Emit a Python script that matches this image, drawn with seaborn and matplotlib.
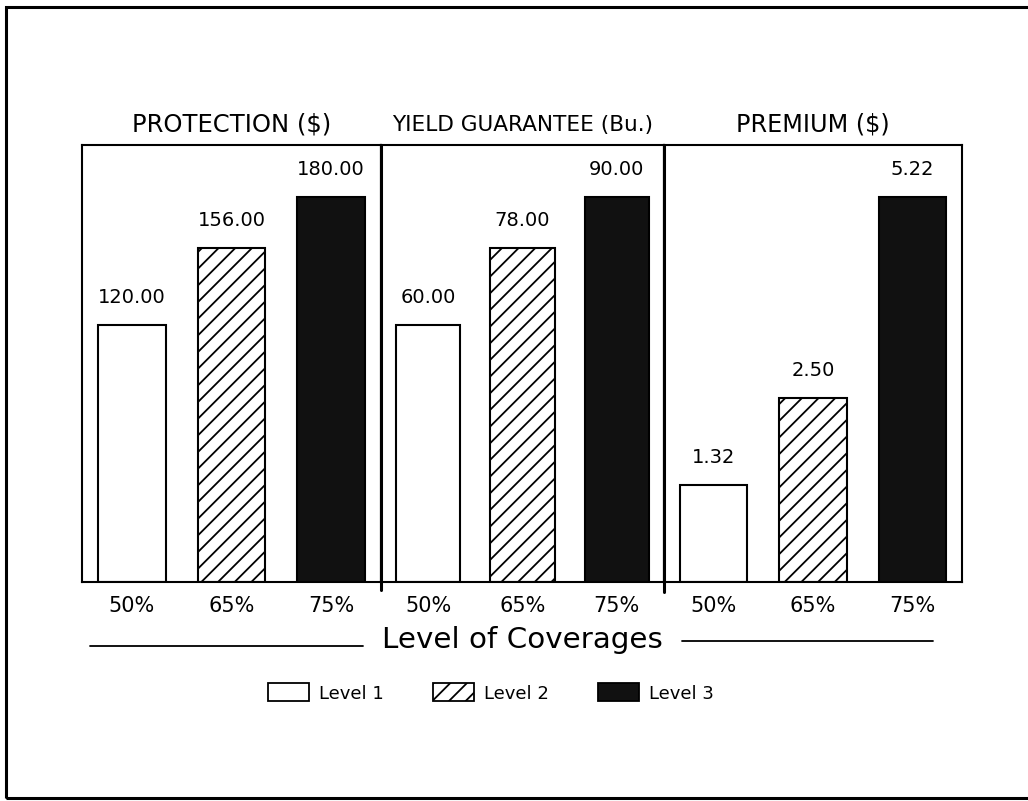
import pandas as pd
import seaborn as sns
import matplotlib.pyplot as plt
from matplotlib.lines import Line2D
from matplotlib.patches import Rectangle, Patch

# Data
coverages = ['50%', '65%', '75%']
levels = ['Level 1', 'Level 2', 'Level 3']
panel_titles = ['PROTECTION ($)', 'YIELD GUARANTEE (Bu.)', 'PREMIUM ($)']
protection = [120.00, 156.00, 180.00]
yield_guarantee = [60.00, 78.00, 90.00]
premium = [1.32, 2.50, 5.22]

df = pd.DataFrame({
    'panel': [panel_titles[0]] * 3 + [panel_titles[1]] * 3 + [panel_titles[2]] * 3,
    'coverage': coverages * 3,
    'value': protection + yield_guarantee + premium,
})

sns.set_style('white')
plt.rcParams['font.family'] = ['DejaVu Sans']
plt.rcParams['text.color'] = 'black'
plt.rcParams['xtick.color'] = 'black'
plt.rcParams['hatch.linewidth'] = 1.3

W, H = 1028, 801
fig = plt.figure(figsize=(W / 100, H / 100), dpi=100)

# panel edges in pixels (left, right)
edges = [(82, 381), (381, 664), (664, 962)]
y_top, y_bot = 145, 582
palette = {'50%': 'white', '65%': 'white', '75%': '#111111'}
title_sizes = [17.5, 15.6, 17.2]

axes = []
for i, (x0, x1) in enumerate(edges):
    ax = fig.add_axes([x0 / W, 1 - y_bot / H, (x1 - x0) / W, (y_bot - y_top) / H])
    sub = df[df['panel'] == panel_titles[i]]
    sns.barplot(data=sub, x='coverage', y='value', hue='coverage', order=coverages,
                palette=palette, edgecolor='black', linewidth=1.5, width=0.68,
                legend=False, ax=ax)
    # hatch the 65% bar
    ax.patches[1].set_hatch('//')
    for c in ax.containers:
        ax.bar_label(c, fmt='%.2f', padding=13, fontsize=14, color='black')
    top = sub['value'].max() * 437 / 385
    ax.set_ylim(0, top)
    ax.set_xlim(-0.5, 2.5)
    ax.set_xlabel('')
    ax.set_ylabel('')
    ax.set_yticks([])
    ax.tick_params(axis='x', length=0, labelsize=15, pad=10)
    ax.set_title(panel_titles[i], fontsize=title_sizes[i], pad=10, color='black')
    for s in ax.spines.values():
        s.set_linewidth(1.5)
        s.set_color('black')
    axes.append(ax)

# heavier separators between panels, running a bit below the baseline
for xs, ye in [(381, 590), (664, 592)]:
    fig.add_artist(Line2D([xs / W, xs / W], [1 - y_top / H, 1 - ye / H],
                          transform=fig.transFigure, color='black', lw=2.2))

# axis caption with rules on each side
fig.text(522 / W, 1 - 640 / H, 'Level of Coverages', ha='center', va='center', fontsize=21.2)
fig.add_artist(Line2D([90 / W, 363 / W], [1 - 646 / H, 1 - 646 / H],
                      transform=fig.transFigure, color='black', lw=1.3))
fig.add_artist(Line2D([682 / W, 933 / W], [1 - 641 / H, 1 - 641 / H],
                      transform=fig.transFigure, color='black', lw=1.3))

# legend
handles = [
    Patch(facecolor='white', edgecolor='black', linewidth=1.3),
    Patch(facecolor='white', edgecolor='black', hatch='//', linewidth=1.3),
    Patch(facecolor='#111111', edgecolor='black', linewidth=1.3),
]
fig.legend(handles, levels, loc='center', bbox_to_anchor=(491 / W, 1 - 693 / H),
           ncol=3, frameon=False, fontsize=13, handlelength=2.3, handleheight=1.15,
           handletextpad=0.55, columnspacing=2.7)

# outer frame (open on the right edge)
fig.add_artist(Rectangle((6 / W, 3 / H), 1.1, 1 - 10 / H, transform=fig.transFigure,
                         fill=False, edgecolor='black', lw=2.2, clip_on=False))

fig.savefig('out.png', dpi=100)
